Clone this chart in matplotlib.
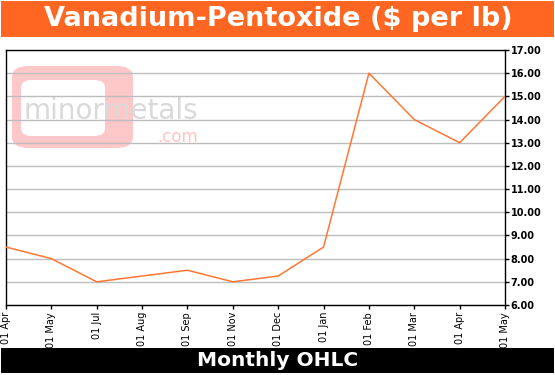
import matplotlib
matplotlib.use("Agg")
import matplotlib.pyplot as plt
from matplotlib.patches import FancyBboxPatch, Rectangle

labels = ["01 Apr", "01 May", "01 Jul", "01 Aug", "01 Sep", "01 Nov",
          "01 Dec", "01 Jan", "01 Feb", "01 Mar", "01 Apr", "01 May"]
prices = [8.5, 8.0, 7.0, 7.25, 7.5, 7.0, 7.25, 8.5, 16.0, 14.0, 13.0, 15.0]
yticks = [6, 7, 8, 9, 10, 11, 12, 13, 14, 15, 16, 17]
title = "Vanadium-Pentoxide ($ per lb)"
footer = "Monthly OHLC"

W, H = 555, 375
fig = plt.figure(figsize=(W / 100, H / 100), dpi=100)
fig.patch.set_facecolor("white")

def fx(px):
    return px / W

def fy(py):
    return 1 - py / H

# title bar
fig.patches.append(Rectangle((fx(1), fy(37)), fx(553), 36 / H, transform=fig.transFigure,
                             facecolor="#FF6622", edgecolor="none", zorder=0))
fig.text(fx(278), fy(19), title, color="white", fontsize=19.5, fontweight="bold",
         ha="center", va="center", family="DejaVu Sans")

# footer bar
fig.patches.append(Rectangle((fx(1), fy(373)), fx(553), 25 / H, transform=fig.transFigure,
                             facecolor="black", edgecolor="none", zorder=0))
fig.text(fx(278), fy(360), footer, color="white", fontsize=14.5, fontweight="bold",
         ha="center", va="center", family="DejaVu Sans")

ax = fig.add_axes([fx(6), fy(305), fx(499), 255 / H])
x = list(range(len(labels)))

# watermark (under the grid)
wm = FancyBboxPatch((fx(12), fy(148)), fx(121), 82 / H, boxstyle="round,pad=0.0,rounding_size=0.03",
                    transform=fig.transFigure, facecolor="#FFC8C8", edgecolor="none", zorder=0.1,
                    clip_on=False)
ax.add_patch(wm)
wm2 = FancyBboxPatch((fx(21), fy(136)), fx(84), 56 / H, boxstyle="round,pad=0.0,rounding_size=0.02",
                     transform=fig.transFigure, facecolor="white", edgecolor="none", zorder=0.2,
                     clip_on=False)
ax.add_patch(wm2)
ax.text(fx(23), fy(111), "minormetals", color="#D9D9D9", fontsize=20, ha="left", va="center",
        family="DejaVu Sans", zorder=0.3, transform=fig.transFigure)
ax.text(fx(157), fy(137), ".com", color="#FFC4C4", fontsize=12, ha="left", va="center",
        family="DejaVu Sans", zorder=0.3, transform=fig.transFigure)

ax.plot(x, prices, color="#FF7733", lw=1.1, zorder=3)
ax.set_xlim(0, len(labels) - 1)
ax.set_ylim(6, 17)
ax.set_yticks(yticks)
ax.set_yticklabels([f"{v:.2f}" for v in yticks], fontsize=7, fontweight="bold", family="DejaVu Sans")
ax.yaxis.tick_right()
ax.tick_params(axis="y", length=3, width=1, pad=1, color="black")
ax.set_xticks(x)
ax.set_xticklabels(labels, rotation=90, fontsize=7, family="DejaVu Sans")
ax.tick_params(axis="x", length=3, width=1, pad=2, color="black")
ax.grid(axis="y", color="#BDBDBD", lw=1, zorder=0.5)
ax.set_axisbelow(True)
for s in ax.spines.values():
    s.set_color("black")
    s.set_linewidth(1)

fig.savefig("out.png", dpi=100)
